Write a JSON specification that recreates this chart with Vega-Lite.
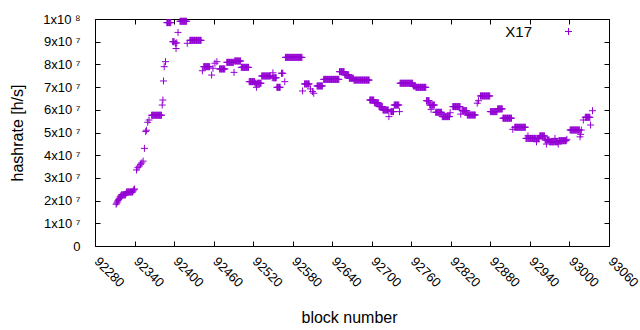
{
"$schema": "https://vega.github.io/schema/vega-lite/v6.json",
"width": 514, "height": 227,
"autosize": {"type": "none"},
"padding": {"left": 95, "top": 19, "right": 31, "bottom": 84},
"background": "white",
"config": {
 "view": {"stroke": "black", "strokeWidth": 1},
 "axis": {"domain": false, "grid": false, "tickColor": "black", "tickSize": -5, "tickWidth": 1, "labelColor": "black", "labelFont": "Liberation Sans", "labelFontSize": 13, "titleFont": "Liberation Sans", "titleFontSize": 16, "titleFontWeight": "normal", "titleColor": "black"}
},
"data": {"values": [
{"b":92312,"h":1.84e7},{"b":92313,"h":1.89e7},{"b":92314,"h":1.94e7},{"b":92315,"h":2.0e7},{"b":92316,"h":2.05e7},{"b":92317,"h":2.1e7},{"b":92318,"h":2.16e7},{"b":92319,"h":2.2e7},
{"b":92320,"h":2.25e7},{"b":92321,"h":2.25e7},{"b":92322,"h":2.25e7},{"b":92323,"h":2.25e7},{"b":92324,"h":2.25e7},{"b":92325,"h":2.25e7},{"b":92326,"h":2.25e7},
{"b":92327,"h":2.3e7},
{"b":92328,"h":2.38e7},{"b":92329,"h":2.38e7},{"b":92330,"h":2.38e7},{"b":92331,"h":2.38e7},{"b":92332,"h":2.38e7},{"b":92333,"h":2.38e7},{"b":92334,"h":2.38e7},{"b":92335,"h":2.38e7},{"b":92336,"h":2.38e7},{"b":92337,"h":2.38e7},
{"b":92338,"h":2.43e7},{"b":92339,"h":2.48e7},{"b":92340,"h":2.51e7},
{"b":92343,"h":3.35e7},{"b":92345,"h":3.45e7},{"b":92347,"h":3.52e7},{"b":92349,"h":3.6e7},{"b":92351,"h":3.66e7},{"b":92353,"h":3.74e7},
{"b":92355,"h":4.3e7},{"b":92357,"h":5.04e7},{"b":92358,"h":5.1e7},{"b":92360,"h":5.45e7},{"b":92362,"h":5.55e7},
{"b":92366,"h":5.76e7},{"b":92367,"h":5.76e7},{"b":92368,"h":5.76e7},{"b":92369,"h":5.76e7},{"b":92370,"h":5.76e7},{"b":92371,"h":5.76e7},{"b":92372,"h":5.76e7},{"b":92373,"h":5.76e7},{"b":92374,"h":5.76e7},{"b":92375,"h":5.76e7},{"b":92376,"h":5.76e7},{"b":92377,"h":5.76e7},{"b":92378,"h":5.76e7},{"b":92379,"h":5.76e7},{"b":92380,"h":5.76e7},{"b":92381,"h":5.76e7},
{"b":92382,"h":6.21e7},{"b":92383,"h":6.43e7},{"b":92384,"h":7.27e7},{"b":92385,"h":7.9e7},{"b":92387,"h":8.12e7},
{"b":92389,"h":9.84e7},{"b":92390,"h":9.84e7},{"b":92391,"h":9.84e7},{"b":92392,"h":9.84e7},{"b":92393,"h":9.84e7},{"b":92394,"h":9.84e7},{"b":92395,"h":9.84e7},
{"b":92398,"h":9.0e7},{"b":92399,"h":9.0e7},{"b":92400,"h":9.0e7},{"b":92402,"h":8.93e7},{"b":92403,"h":8.7e7},{"b":92404,"h":8.95e7},{"b":92406,"h":9.41e7},
{"b":92409,"h":9.9e7},{"b":92410,"h":9.9e7},{"b":92411,"h":9.9e7},{"b":92412,"h":9.9e7},{"b":92413,"h":9.9e7},{"b":92414,"h":9.9e7},{"b":92415,"h":9.9e7},{"b":92416,"h":9.9e7},{"b":92417,"h":9.9e7},{"b":92418,"h":9.9e7},{"b":92419,"h":9.9e7},
{"b":92420,"h":8.93e7},
{"b":92424,"h":9.06e7},{"b":92425,"h":9.06e7},{"b":92426,"h":9.06e7},{"b":92427,"h":9.06e7},{"b":92428,"h":9.06e7},{"b":92429,"h":9.06e7},{"b":92430,"h":9.06e7},{"b":92431,"h":9.06e7},{"b":92432,"h":9.06e7},{"b":92433,"h":9.06e7},{"b":92434,"h":9.06e7},{"b":92435,"h":9.06e7},{"b":92436,"h":9.06e7},{"b":92437,"h":9.06e7},{"b":92438,"h":9.06e7},{"b":92439,"h":9.06e7},{"b":92440,"h":9.06e7},{"b":92441,"h":9.06e7},
{"b":92443,"h":7.72e7},
{"b":92445,"h":7.9e7},{"b":92446,"h":7.9e7},{"b":92447,"h":7.9e7},{"b":92448,"h":7.9e7},{"b":92449,"h":7.9e7},{"b":92450,"h":7.9e7},{"b":92451,"h":7.9e7},{"b":92452,"h":7.9e7},{"b":92453,"h":7.9e7},{"b":92454,"h":7.9e7},
{"b":92457,"h":7.53e7},{"b":92459,"h":7.83e7},{"b":92462,"h":8.05e7},{"b":92465,"h":8.12e7},
{"b":92469,"h":7.8e7},{"b":92470,"h":7.8e7},{"b":92471,"h":7.8e7},{"b":92472,"h":7.8e7},{"b":92473,"h":7.8e7},{"b":92474,"h":7.8e7},{"b":92475,"h":7.8e7},{"b":92476,"h":7.8e7},{"b":92477,"h":7.8e7},
{"b":92480,"h":8.09e7},{"b":92481,"h":8.09e7},{"b":92482,"h":8.09e7},{"b":92483,"h":8.09e7},{"b":92484,"h":8.09e7},{"b":92485,"h":8.09e7},{"b":92486,"h":8.09e7},{"b":92487,"h":8.09e7},{"b":92488,"h":8.09e7},{"b":92489,"h":8.09e7},{"b":92490,"h":8.09e7},
{"b":92491,"h":7.65e7},
{"b":92492,"h":8.15e7},{"b":92493,"h":8.15e7},{"b":92494,"h":8.15e7},{"b":92495,"h":8.15e7},{"b":92496,"h":8.15e7},{"b":92497,"h":8.15e7},{"b":92498,"h":8.15e7},{"b":92499,"h":8.15e7},{"b":92500,"h":8.15e7},{"b":92501,"h":8.15e7},
{"b":92502,"h":7.87e7},{"b":92503,"h":7.87e7},{"b":92504,"h":7.87e7},{"b":92505,"h":7.87e7},{"b":92506,"h":7.87e7},{"b":92507,"h":7.87e7},{"b":92508,"h":7.87e7},{"b":92509,"h":7.87e7},{"b":92510,"h":7.87e7},{"b":92511,"h":7.87e7},{"b":92512,"h":7.87e7},{"b":92513,"h":7.87e7},
{"b":92514,"h":7.24e7},{"b":92515,"h":7.24e7},{"b":92516,"h":7.24e7},{"b":92517,"h":7.24e7},{"b":92518,"h":7.24e7},{"b":92519,"h":7.24e7},{"b":92520,"h":7.24e7},{"b":92521,"h":7.24e7},{"b":92522,"h":7.24e7},
{"b":92523,"h":7.17e7},{"b":92524,"h":7.17e7},{"b":92525,"h":6.99e7},{"b":92526,"h":7.17e7},{"b":92527,"h":7.17e7},{"b":92528,"h":7.17e7},{"b":92529,"h":7.17e7},{"b":92530,"h":7.17e7},{"b":92531,"h":7.17e7},{"b":92532,"h":7.17e7},
{"b":92533,"h":7.49e7},{"b":92534,"h":7.49e7},{"b":92535,"h":7.49e7},{"b":92536,"h":7.49e7},{"b":92537,"h":7.49e7},{"b":92538,"h":7.49e7},{"b":92539,"h":7.49e7},{"b":92540,"h":7.49e7},{"b":92541,"h":7.49e7},{"b":92542,"h":7.49e7},{"b":92543,"h":7.49e7},{"b":92544,"h":7.49e7},{"b":92545,"h":7.49e7},{"b":92546,"h":7.49e7},
{"b":92549,"h":7.41e7},{"b":92550,"h":7.63e7},{"b":92551,"h":7.41e7},{"b":92552,"h":7.41e7},{"b":92553,"h":7.41e7},{"b":92554,"h":7.41e7},{"b":92555,"h":7.41e7},
{"b":92556,"h":6.99e7},{"b":92557,"h":6.99e7},{"b":92558,"h":6.99e7},{"b":92559,"h":6.99e7},{"b":92560,"h":6.99e7},{"b":92561,"h":6.99e7},
{"b":92563,"h":7.61e7},{"b":92564,"h":7.61e7},{"b":92565,"h":7.61e7},{"b":92568,"h":7.24e7},
{"b":92569,"h":8.31e7},{"b":92570,"h":8.31e7},{"b":92571,"h":8.31e7},{"b":92572,"h":8.31e7},{"b":92573,"h":8.31e7},{"b":92574,"h":8.31e7},{"b":92575,"h":8.31e7},{"b":92576,"h":8.31e7},{"b":92577,"h":8.31e7},{"b":92578,"h":8.31e7},{"b":92579,"h":8.31e7},{"b":92580,"h":8.31e7},{"b":92581,"h":8.31e7},{"b":92582,"h":8.31e7},{"b":92583,"h":8.31e7},{"b":92584,"h":8.31e7},{"b":92585,"h":8.31e7},{"b":92586,"h":8.31e7},{"b":92587,"h":8.31e7},{"b":92588,"h":8.31e7},{"b":92589,"h":8.31e7},{"b":92590,"h":8.31e7},{"b":92591,"h":8.31e7},{"b":92592,"h":8.31e7},{"b":92593,"h":8.31e7},{"b":92594,"h":8.31e7},
{"b":92595,"h":6.83e7},
{"b":92598,"h":7.14e7},{"b":92599,"h":7.14e7},{"b":92600,"h":7.14e7},{"b":92601,"h":7.14e7},{"b":92602,"h":7.14e7},{"b":92603,"h":7.14e7},{"b":92604,"h":7.14e7},{"b":92605,"h":7.14e7},
{"b":92607,"h":6.92e7},{"b":92610,"h":6.8e7},{"b":92612,"h":6.73e7},
{"b":92617,"h":7.05e7},{"b":92618,"h":7.05e7},{"b":92619,"h":7.05e7},{"b":92620,"h":7.05e7},{"b":92621,"h":7.05e7},{"b":92622,"h":7.05e7},{"b":92623,"h":7.05e7},{"b":92624,"h":7.05e7},{"b":92625,"h":7.05e7},
{"b":92627,"h":7.34e7},{"b":92628,"h":7.34e7},{"b":92629,"h":7.34e7},{"b":92630,"h":7.34e7},{"b":92631,"h":7.34e7},{"b":92632,"h":7.34e7},{"b":92633,"h":7.34e7},{"b":92634,"h":7.34e7},{"b":92635,"h":7.34e7},{"b":92636,"h":7.34e7},{"b":92637,"h":7.34e7},{"b":92638,"h":7.34e7},{"b":92639,"h":7.34e7},{"b":92640,"h":7.34e7},{"b":92641,"h":7.34e7},{"b":92642,"h":7.34e7},{"b":92643,"h":7.34e7},{"b":92644,"h":7.34e7},{"b":92645,"h":7.34e7},{"b":92646,"h":7.34e7},{"b":92647,"h":7.34e7},{"b":92648,"h":7.34e7},{"b":92649,"h":7.34e7},{"b":92650,"h":7.34e7},
{"b":92651,"h":7.68e7},{"b":92652,"h":7.68e7},{"b":92653,"h":7.68e7},{"b":92654,"h":7.68e7},{"b":92655,"h":7.68e7},{"b":92656,"h":7.68e7},{"b":92657,"h":7.68e7},{"b":92658,"h":7.68e7},
{"b":92659,"h":7.54e7},{"b":92660,"h":7.54e7},{"b":92661,"h":7.54e7},{"b":92662,"h":7.54e7},{"b":92663,"h":7.54e7},{"b":92664,"h":7.54e7},{"b":92665,"h":7.54e7},
{"b":92666,"h":7.39e7},{"b":92667,"h":7.39e7},{"b":92668,"h":7.39e7},{"b":92669,"h":7.39e7},{"b":92670,"h":7.39e7},{"b":92671,"h":7.39e7},{"b":92672,"h":7.39e7},
{"b":92673,"h":7.31e7},{"b":92674,"h":7.31e7},{"b":92675,"h":7.31e7},{"b":92676,"h":7.31e7},{"b":92677,"h":7.31e7},{"b":92678,"h":7.31e7},{"b":92679,"h":7.31e7},{"b":92680,"h":7.31e7},{"b":92681,"h":7.31e7},{"b":92682,"h":7.31e7},{"b":92683,"h":7.31e7},{"b":92684,"h":7.31e7},{"b":92685,"h":7.31e7},{"b":92686,"h":7.31e7},{"b":92687,"h":7.31e7},{"b":92688,"h":7.31e7},{"b":92689,"h":7.31e7},{"b":92690,"h":7.31e7},{"b":92691,"h":7.31e7},{"b":92692,"h":7.31e7},{"b":92693,"h":7.31e7},{"b":92694,"h":7.31e7},{"b":92695,"h":7.31e7},{"b":92696,"h":7.31e7},
{"b":92697,"h":6.43e7},{"b":92698,"h":6.43e7},{"b":92699,"h":6.43e7},{"b":92700,"h":6.43e7},{"b":92701,"h":6.43e7},{"b":92702,"h":6.43e7},{"b":92703,"h":6.43e7},
{"b":92704,"h":6.31e7},{"b":92705,"h":6.31e7},{"b":92706,"h":6.31e7},{"b":92707,"h":6.31e7},{"b":92708,"h":6.31e7},{"b":92709,"h":6.31e7},{"b":92710,"h":6.31e7},
{"b":92711,"h":6.14e7},{"b":92712,"h":6.14e7},{"b":92713,"h":6.14e7},{"b":92714,"h":6.14e7},{"b":92715,"h":6.14e7},{"b":92716,"h":6.14e7},
{"b":92717,"h":5.99e7},{"b":92718,"h":5.99e7},{"b":92719,"h":5.99e7},{"b":92720,"h":5.99e7},{"b":92721,"h":5.99e7},{"b":92722,"h":5.99e7},{"b":92723,"h":5.99e7},{"b":92724,"h":5.99e7},{"b":92725,"h":5.99e7},
{"b":92726,"h":5.7e7},
{"b":92729,"h":5.92e7},{"b":92730,"h":5.92e7},{"b":92731,"h":5.92e7},{"b":92732,"h":5.92e7},{"b":92733,"h":5.92e7},
{"b":92734,"h":6.21e7},{"b":92735,"h":6.21e7},{"b":92736,"h":6.21e7},{"b":92737,"h":6.21e7},{"b":92738,"h":6.21e7},{"b":92739,"h":6.21e7},{"b":92740,"h":6.21e7},{"b":92741,"h":6.21e7},
{"b":92742,"h":5.92e7},
{"b":92743,"h":7.17e7},{"b":92744,"h":7.17e7},{"b":92745,"h":7.17e7},{"b":92746,"h":7.17e7},{"b":92747,"h":7.17e7},{"b":92748,"h":7.17e7},{"b":92749,"h":7.17e7},{"b":92750,"h":7.17e7},{"b":92751,"h":7.17e7},{"b":92752,"h":7.17e7},{"b":92753,"h":7.17e7},{"b":92754,"h":7.17e7},{"b":92755,"h":7.17e7},{"b":92756,"h":7.17e7},{"b":92757,"h":7.17e7},{"b":92758,"h":7.17e7},{"b":92759,"h":7.17e7},{"b":92760,"h":7.17e7},{"b":92761,"h":7.17e7},{"b":92762,"h":7.17e7},
{"b":92763,"h":7.05e7},{"b":92764,"h":7.05e7},{"b":92765,"h":7.05e7},{"b":92766,"h":7.05e7},
{"b":92767,"h":6.99e7},{"b":92768,"h":6.99e7},{"b":92769,"h":6.99e7},{"b":92770,"h":6.99e7},{"b":92771,"h":6.99e7},{"b":92772,"h":6.99e7},{"b":92773,"h":6.99e7},{"b":92774,"h":6.99e7},{"b":92775,"h":6.99e7},{"b":92776,"h":6.99e7},{"b":92777,"h":6.99e7},{"b":92778,"h":6.99e7},{"b":92779,"h":6.99e7},{"b":92780,"h":6.99e7},{"b":92781,"h":6.99e7},{"b":92782,"h":6.99e7},
{"b":92783,"h":6.4e7},{"b":92784,"h":6.4e7},{"b":92785,"h":6.4e7},{"b":92786,"h":6.4e7},{"b":92787,"h":6.4e7},
{"b":92788,"h":6.21e7},{"b":92789,"h":6.21e7},{"b":92790,"h":6.02e7},{"b":92791,"h":6.21e7},{"b":92792,"h":6.21e7},{"b":92793,"h":6.21e7},{"b":92794,"h":6.21e7},{"b":92795,"h":6.21e7},
{"b":92797,"h":5.89e7},{"b":92798,"h":5.89e7},{"b":92799,"h":5.89e7},{"b":92800,"h":5.89e7},{"b":92801,"h":5.89e7},{"b":92802,"h":5.89e7},{"b":92803,"h":5.89e7},{"b":92804,"h":5.89e7},{"b":92805,"h":5.89e7},{"b":92806,"h":5.89e7},
{"b":92807,"h":5.7e7},{"b":92808,"h":5.7e7},{"b":92809,"h":5.7e7},{"b":92810,"h":5.7e7},{"b":92811,"h":5.7e7},{"b":92812,"h":5.7e7},{"b":92813,"h":5.7e7},{"b":92814,"h":5.7e7},{"b":92815,"h":5.7e7},{"b":92816,"h":5.7e7},{"b":92817,"h":5.7e7},{"b":92818,"h":5.7e7},
{"b":92819,"h":5.87e7},
{"b":92823,"h":6.14e7},{"b":92824,"h":6.14e7},{"b":92825,"h":6.14e7},{"b":92826,"h":6.14e7},{"b":92827,"h":6.14e7},{"b":92828,"h":6.14e7},{"b":92829,"h":6.14e7},{"b":92830,"h":6.14e7},{"b":92831,"h":6.14e7},{"b":92832,"h":6.14e7},{"b":92833,"h":6.14e7},{"b":92834,"h":6.14e7},
{"b":92835,"h":5.81e7},
{"b":92837,"h":5.96e7},{"b":92838,"h":5.96e7},{"b":92839,"h":5.96e7},{"b":92840,"h":5.96e7},{"b":92841,"h":5.96e7},{"b":92842,"h":5.96e7},{"b":92843,"h":5.96e7},{"b":92844,"h":5.96e7},
{"b":92845,"h":5.77e7},{"b":92846,"h":5.77e7},{"b":92847,"h":5.77e7},{"b":92848,"h":5.77e7},{"b":92849,"h":5.77e7},{"b":92850,"h":5.77e7},{"b":92851,"h":5.77e7},{"b":92852,"h":5.77e7},{"b":92853,"h":5.77e7},{"b":92854,"h":5.77e7},{"b":92855,"h":5.77e7},{"b":92856,"h":5.77e7},{"b":92857,"h":5.77e7},
{"b":92860,"h":6.29e7},{"b":92862,"h":6.4e7},
{"b":92865,"h":6.61e7},{"b":92866,"h":6.61e7},{"b":92867,"h":6.61e7},{"b":92868,"h":6.61e7},{"b":92869,"h":6.61e7},{"b":92870,"h":6.61e7},{"b":92871,"h":6.61e7},{"b":92872,"h":6.61e7},{"b":92873,"h":6.61e7},{"b":92874,"h":6.61e7},{"b":92875,"h":6.61e7},{"b":92876,"h":6.61e7},{"b":92877,"h":6.61e7},{"b":92878,"h":6.61e7},{"b":92879,"h":6.61e7},
{"b":92880,"h":5.92e7},{"b":92881,"h":5.92e7},{"b":92882,"h":5.92e7},{"b":92883,"h":5.92e7},{"b":92884,"h":5.92e7},{"b":92885,"h":5.92e7},{"b":92886,"h":5.92e7},{"b":92887,"h":5.92e7},{"b":92888,"h":5.92e7},{"b":92889,"h":5.92e7},{"b":92890,"h":5.92e7},
{"b":92891,"h":6.04e7},{"b":92892,"h":6.04e7},{"b":92893,"h":6.04e7},{"b":92894,"h":6.04e7},{"b":92895,"h":6.04e7},{"b":92896,"h":6.04e7},{"b":92897,"h":6.04e7},{"b":92898,"h":6.04e7},
{"b":92899,"h":5.63e7},{"b":92900,"h":5.63e7},{"b":92901,"h":5.63e7},{"b":92902,"h":5.63e7},{"b":92903,"h":5.63e7},{"b":92904,"h":5.63e7},{"b":92905,"h":5.63e7},{"b":92906,"h":5.63e7},{"b":92907,"h":5.63e7},{"b":92908,"h":5.63e7},{"b":92909,"h":5.63e7},{"b":92910,"h":5.63e7},{"b":92911,"h":5.63e7},{"b":92912,"h":5.63e7},
{"b":92914,"h":5.14e7},
{"b":92917,"h":5.23e7},{"b":92918,"h":5.23e7},{"b":92919,"h":5.23e7},{"b":92920,"h":5.23e7},{"b":92921,"h":5.23e7},{"b":92922,"h":5.23e7},{"b":92923,"h":5.23e7},{"b":92924,"h":5.23e7},{"b":92925,"h":5.23e7},{"b":92926,"h":5.23e7},{"b":92927,"h":5.23e7},{"b":92928,"h":5.23e7},{"b":92929,"h":5.23e7},{"b":92930,"h":5.23e7},{"b":92931,"h":5.23e7},{"b":92932,"h":5.23e7},{"b":92933,"h":5.23e7},
{"b":92934,"h":4.74e7},{"b":92935,"h":4.74e7},{"b":92936,"h":4.74e7},{"b":92937,"h":4.85e7},{"b":92938,"h":4.74e7},{"b":92939,"h":4.74e7},{"b":92940,"h":4.74e7},{"b":92941,"h":4.74e7},{"b":92942,"h":4.74e7},{"b":92943,"h":4.74e7},{"b":92944,"h":4.74e7},{"b":92945,"h":4.74e7},{"b":92946,"h":4.74e7},{"b":92947,"h":4.74e7},{"b":92948,"h":4.74e7},{"b":92949,"h":4.74e7},{"b":92950,"h":4.59e7},{"b":92951,"h":4.74e7},{"b":92952,"h":4.74e7},{"b":92953,"h":4.74e7},{"b":92954,"h":4.74e7},
{"b":92955,"h":4.85e7},{"b":92956,"h":4.85e7},{"b":92957,"h":4.85e7},{"b":92958,"h":4.85e7},{"b":92959,"h":4.85e7},{"b":92960,"h":4.85e7},{"b":92961,"h":4.85e7},{"b":92962,"h":4.85e7},
{"b":92963,"h":4.67e7},{"b":92964,"h":4.67e7},{"b":92965,"h":4.49e7},{"b":92966,"h":4.67e7},{"b":92967,"h":4.67e7},{"b":92968,"h":4.67e7},{"b":92969,"h":4.67e7},
{"b":92970,"h":4.59e7},{"b":92971,"h":4.59e7},{"b":92972,"h":4.59e7},{"b":92973,"h":4.59e7},{"b":92974,"h":4.59e7},{"b":92975,"h":4.59e7},{"b":92976,"h":4.59e7},{"b":92977,"h":4.59e7},{"b":92978,"h":4.74e7},{"b":92979,"h":4.59e7},{"b":92980,"h":4.59e7},{"b":92981,"h":4.59e7},{"b":92982,"h":4.59e7},
{"b":92983,"h":4.49e7},
{"b":92984,"h":4.64e7},{"b":92985,"h":4.64e7},{"b":92986,"h":4.64e7},{"b":92987,"h":4.64e7},{"b":92988,"h":4.64e7},{"b":92989,"h":4.64e7},{"b":92990,"h":4.64e7},{"b":92991,"h":4.64e7},{"b":92992,"h":4.64e7},{"b":92993,"h":4.64e7},{"b":92994,"h":4.64e7},{"b":92995,"h":4.64e7},
{"b":92996,"h":4.7e7},
{"b":93001,"h":5.11e7},{"b":93002,"h":5.11e7},{"b":93003,"h":5.11e7},{"b":93004,"h":5.11e7},{"b":93005,"h":5.11e7},{"b":93006,"h":5.11e7},{"b":93007,"h":5.11e7},{"b":93008,"h":5.11e7},{"b":93009,"h":5.11e7},{"b":93010,"h":5.11e7},{"b":93011,"h":5.11e7},{"b":93012,"h":5.11e7},{"b":93013,"h":5.11e7},{"b":93014,"h":5.11e7},{"b":93015,"h":5.11e7},
{"b":93016,"h":4.81e7},{"b":93017,"h":4.92e7},{"b":93018,"h":5.11e7},{"b":93021,"h":5.55e7},
{"b":93024,"h":5.67e7},{"b":93025,"h":5.67e7},{"b":93026,"h":5.67e7},{"b":93027,"h":5.67e7},{"b":93028,"h":5.67e7},{"b":93029,"h":5.67e7},{"b":93030,"h":5.67e7},{"b":93031,"h":5.67e7},
{"b":93032,"h":5.33e7},{"b":93035,"h":5.96e7}
]},
"layer": [
 {
  "mark": {"type": "point", "shape": "M-1,0H1M0,-1V1", "filled": false, "size": 49, "strokeWidth": 1, "opacity": 1},
  "encoding": {
   "x": {"field": "b", "type": "quantitative",
         "scale": {"domain": [92280, 93060], "nice": false, "zero": false},
         "axis": {"values": [92280,92340,92400,92460,92520,92580,92640,92700,92760,92820,92880,92940,93000,93060], "format": "d",
                  "labelAngle": 45, "labelAlign": "left", "labelBaseline": "middle", "labelOffset": 1, "labelPadding": 18,
                  "labelOverlap": false, "labelFlush": false, "labelBound": false,
                  "title": "block number", "titleX": 254, "titleY": 76, "titleBaseline": "alphabetic", "titleAlign": "center"}},
   "y": {"field": "h", "type": "quantitative",
         "scale": {"domain": [0, 100000000], "nice": false},
         "axis": {"values": [0,10000000,20000000,30000000,40000000,50000000,60000000,70000000,80000000,90000000,100000000],
                  "labelExpr": "datum.value == 0 ? '0' : (datum.value > 99999999 ? '1x10 ⁸\u00a0\u00a0' : round(datum.value/10000000) + 'x10 ⁷\u00a0\u00a0')",
                  "labelPadding": 20, "labelOverlap": false, "labelFlush": false,
                  "title": "hashrate [h/s]", "titleX": -72.5, "titleY": 113.5, "titleAngle": -90, "titleBaseline": "alphabetic", "titleAlign": "center"}},
   "color": {"datum": "X17", "type": "nominal", "scale": {"range": ["#9400d3"]},
             "legend": {"title": null, "orient": "none", "legendX": 466, "legendY": 5,
                        "symbolType": "M-1,0H1M0,-1V1", "symbolSize": 49, "symbolStrokeWidth": 1,
                        "labelAlign": "right", "labelOffset": -44, "labelFont": "Liberation Sans", "labelFontSize": 15, "labelColor": "black"}}
  }
 },
 {
  "mark": {"type": "point", "opacity": 0},
  "encoding": {
   "x": {"field": "b", "type": "quantitative",
         "scale": {"domain": [92280, 93060], "nice": false, "zero": false},
         "axis": {"orient": "top", "values": [92280,92340,92400,92460,92520,92580,92640,92700,92760,92820,92880,92940,93000,93060], "labels": false, "title": null}},
   "y": {"field": "h", "type": "quantitative",
         "scale": {"domain": [0, 100000000], "nice": false},
         "axis": {"orient": "right", "values": [0,10000000,20000000,30000000,40000000,50000000,60000000,70000000,80000000,90000000,100000000], "labels": false, "title": null}}
  }
 }
],
"resolve": {"axis": {"x": "independent", "y": "independent"}}
}
